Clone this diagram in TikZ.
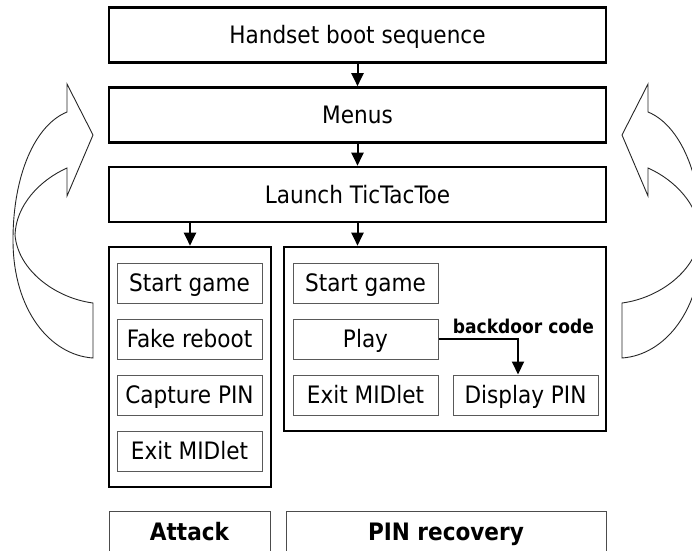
\documentclass[tikz,border=0pt]{standalone}
\usepackage{fontspec}
\setmainfont{DejaVu Sans Condensed}
\usetikzlibrary{arrows.meta}
\begin{document}
\begin{tikzpicture}[x=1pt,y=-1pt,
  label text/.style={font=\fontsize{24}{28}\selectfont, text height=17.4pt, text depth=0pt},
  stage/.style={label text, draw=black, line width=2.6pt, inner sep=0pt, minimum width=497pt,
    minimum height=55pt},
  group/.style={draw=black, line width=2.6pt, inner sep=0pt},
  task/.style={label text, draw=black!65, line width=1pt, inner sep=0pt, minimum width=145pt,
    minimum height=40pt},
  flow/.style={line width=2pt, -{Triangle[width=12pt,length=13pt]}},
  tag/.style={draw=black!70, line width=1pt},
  tagtext/.style={font=\fontsize{24}{28}\selectfont\bfseries, anchor=base},
  note/.style={font=\fontsize{19}{22}\selectfont\bfseries, anchor=base},
  loop/.style={draw=black!85, line width=0.9pt, line join=miter},
  turnarrow/.pic={
    \draw[loop] (93,358) .. controls (50,355) and (13,310) .. (13,240)
      .. controls (13,175) and (35,125) .. (67,112)
      -- (67,84) -- (93,135) -- (67,196) -- (67,168)
      .. controls (40,180) and (16,205) .. (15,235)
      .. controls (18,270) and (55,298) .. (93,303) -- cycle;
  }]
\useasboundingbox (0,0) rectangle (692,550);

% main sequence
\node[stage] (boot)   at (357.5,35)  {Handset boot sequence};
\node[stage] (menus)  at (357.5,115) {Menus};
\node[stage] (launch) at (357.5,194.5) {Launch TicTacToe};

% the two MIDlet variants
\node[group, minimum width=162pt, minimum height=240pt] (attackbox) at (190,367) {};
\node[group, minimum width=322pt, minimum height=184pt] (pinbox) at (445,339) {};

% attack variant steps
\node[task] (astart)   at (189.5,283) {Start game};
\node[task] (afake)    at (189.5,339) {Fake reboot};
\node[task] (acapture) at (189.5,395) {Capture PIN};
\node[task] (aexit)    at (189.5,451) {Exit MIDlet};

% PIN recovery variant steps
\node[task] (pstart)   at (365.5,283) {Start game};
\node[task] (pplay)    at (365.5,339) {Play};
\node[task] (pexit)    at (365.5,395) {Exit MIDlet};
\node[task] (pdisplay) at (525.5,395) {Display PIN};

% connectors
\draw[flow] (boot.south) -- (menus.north);
\draw[flow] (menus.south) -- (launch.north);
\draw[flow] (launch.south -| attackbox.north) -- (attackbox.north);
\draw[flow] (launch.south) -- (launch.south |- pinbox.north);
\draw[flow] (pplay.east) -| ([xshift=-7.5pt]pdisplay.north);
\node[note] (backdoor) at (523.5,333) {backdoor code};

% captions
\draw[tag] (109,556) |- (270,511) -- (270,556);
\draw[tag] (286,556) |- (606,511) -- (606,556);
\node[tagtext] (attacklabel) at (189.5,540) {Attack};
\node[tagtext] (pinlabel) at (446,540) {PIN recovery};

% looping arrows on both sides
\pic at (0,0) {turnarrow};
\pic[xscale=-1] at (715,0) {turnarrow};
\end{tikzpicture}
\end{document}
